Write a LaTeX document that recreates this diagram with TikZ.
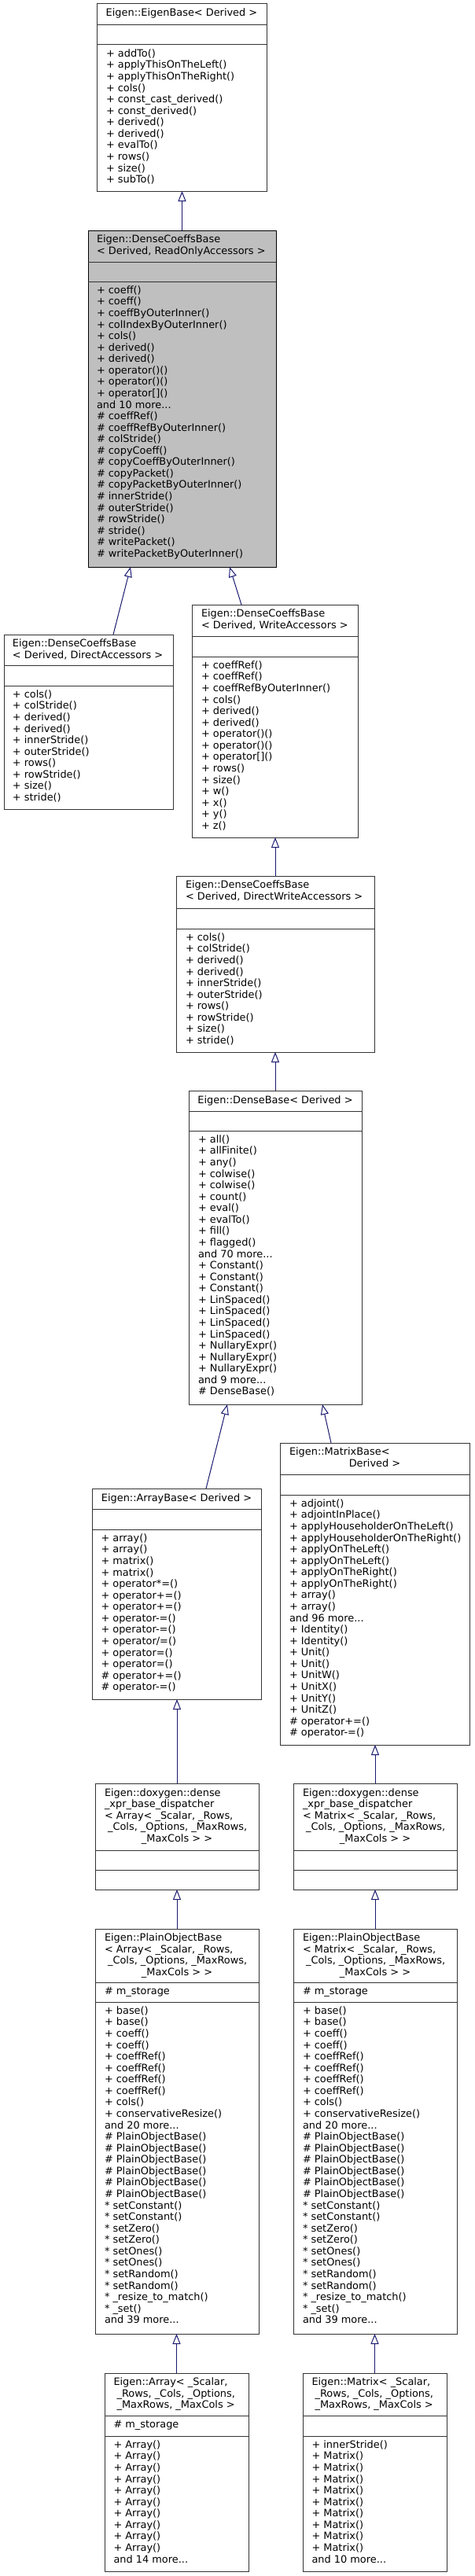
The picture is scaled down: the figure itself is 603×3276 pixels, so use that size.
\documentclass[tikz,border=0pt]{standalone}
\usepackage{fontspec}
\setmainfont{DejaVu Sans}
\usetikzlibrary{arrows.meta,calc}
\definecolor{edgeblue}{HTML}{191970}
\definecolor{hlgray}{HTML}{BFBFBF}
\newcommand\mdots{.{}.{}.}
\tikzset{
  box/.style={rectangle, draw=black!80, line width=1pt, fill=white, inner sep=0pt, outer sep=0pt},
  hlbox/.style={box, draw=black, fill=hlgray},
  sepline/.style={draw=black!80, line width=1pt},
  txt/.style={anchor=base west, inner sep=0pt, outer sep=0pt, font=\fontsize{12.9}{14.57}\selectfont},
  ctxt/.style={txt, anchor=base},
  inh/.style={draw=edgeblue, line width=1pt, -{Triangle[open, length=13pt, width=10pt, line width=1pt]}},
}
\newcommand\umlbox[8]{%
  \node[#2, anchor=north west, minimum width=#5pt, minimum height=#6pt] (#1) at (#3,#4) {};
  \draw[sepline] (#1.west |- 0,#7) -- (#1.east |- 0,#7);
  \draw[sepline] (#1.west |- 0,#8) -- (#1.east |- 0,#8);
}
\newcommand\txtlines[4]{%
  \foreach [count=\i] \t in {#4} {\node[txt] (#1\i) at (#2,{#3+14.57*(\i-1)}) {\t};}
}
\begin{document}
\begin{tikzpicture}[x=1pt,y=-1pt]
\useasboundingbox (0,0) rectangle (603,3276);
\fill[white] (0,0) rectangle (603,3276);

% EigenBase
\umlbox{eigen}{box}{123}{5}{216}{238}{32}{57}
\node[ctxt] (eigent) at (231,21) {Eigen::EigenBase< Derived >};
\txtlines{eigenm}{135}{72.3}{{+ addTo()},{+ applyThisOnTheLeft()},{+ applyThisOnTheRight()},{+ cols()},{+ const\_cast\_derived()},{+ const\_derived()},{+ derived()},{+ derived()},{+ evalTo()},{+ rows()},{+ size()},{+ subTo()}}

% DenseCoeffsBase ReadOnly
\umlbox{ro}{hlbox}{112}{293}{239}{428}{333}{358}
\txtlines{rot}{123}{308.5}{{Eigen::DenseCoeffsBase},{< Derived, ReadOnlyAccessors >}}
\txtlines{rom}{123}{373.3}{{+ coeff()},{+ coeff()},{+ coeffByOuterInner()},{+ colIndexByOuterInner()},{+ cols()},{+ derived()},{+ derived()},{+ operator()()},{+ operator()()},{+ operator[]()},{and 10 more\mdots},{\# coeffRef()},{\# coeffRefByOuterInner()},{\# colStride()},{\# copyCoeff()},{\# copyCoeffByOuterInner()},{\# copyPacket()},{\# copyPacketByOuterInner()},{\# innerStride()},{\# outerStride()},{\# rowStride()},{\# stride()},{\# writePacket()},{\# writePacketByOuterInner()}}

% DirectAccessors
\umlbox{dacc}{box}{5}{807}{215}{222}{846}{872}
\txtlines{dacct}{16}{822.5}{{Eigen::DenseCoeffsBase},{< Derived, DirectAccessors >}}
\txtlines{daccm}{16}{887.3}{{+ cols()},{+ colStride()},{+ derived()},{+ derived()},{+ innerStride()},{+ outerStride()},{+ rows()},{+ rowStride()},{+ size()},{+ stride()}}

% WriteAccessors
\umlbox{wacc}{box}{244}{769}{211}{296}{809}{835}
\txtlines{wacct}{256}{784.5}{{Eigen::DenseCoeffsBase},{< Derived, WriteAccessors >}}
\txtlines{waccm}{256}{850.3}{{+ coeffRef()},{+ coeffRef()},{+ coeffRefByOuterInner()},{+ cols()},{+ derived()},{+ derived()},{+ operator()()},{+ operator()()},{+ operator[]()},{+ rows()},{+ size()},{+ w()},{+ x()},{+ y()},{+ z()}}

% DirectWriteAccessors
\umlbox{dwacc}{box}{224}{1114}{252}{224}{1155}{1181}
\txtlines{dwacct}{236}{1129.5}{{Eigen::DenseCoeffsBase},{< Derived, DirectWriteAccessors >}}
\txtlines{dwaccm}{236}{1196.3}{{+ cols()},{+ colStride()},{+ derived()},{+ derived()},{+ innerStride()},{+ outerStride()},{+ rows()},{+ rowStride()},{+ size()},{+ stride()}}

% DenseBase
\umlbox{dense}{box}{240}{1387}{220}{399}{1413}{1438}
\node[ctxt] (denset) at (350,1403) {Eigen::DenseBase< Derived >};
\txtlines{densem}{252}{1453.3}{{+ all()},{+ allFinite()},{+ any()},{+ colwise()},{+ colwise()},{+ count()},{+ eval()},{+ evalTo()},{+ fill()},{+ flagged()},{and 70 more\mdots},{+ Constant()},{+ Constant()},{+ Constant()},{+ LinSpaced()},{+ LinSpaced()},{+ LinSpaced()},{+ LinSpaced()},{+ NullaryExpr()},{+ NullaryExpr()},{+ NullaryExpr()},{and 9 more\mdots},{\# DenseBase()}}

% ArrayBase
\umlbox{abase}{box}{117}{1893}{215}{268}{1919}{1945}
\node[ctxt] (abaset) at (224.5,1909) {Eigen::ArrayBase< Derived >};
\txtlines{abasem}{128.5}{1960.3}{{+ array()},{+ array()},{+ matrix()},{+ matrix()},{+ operator*=()},{+ operator+=()},{+ operator+=()},{+ operator-=()},{+ operator-=()},{+ operator/=()},{+ operator=()},{+ operator=()},{\# operator+=()},{\# operator-=()}}

% MatrixBase
\umlbox{mbase}{box}{356}{1835}{241}{384}{1875}{1901}
\node[txt] (mbaset1) at (368,1850.5) {Eigen::MatrixBase<};
\node[ctxt] (mbaset2) at (476.5,1865.1) {Derived >};
\txtlines{mbasem}{368}{1916.3}{{+ adjoint()},{+ adjointInPlace()},{+ applyHouseholderOnTheLeft()},{+ applyHouseholderOnTheRight()},{+ applyOnTheLeft()},{+ applyOnTheLeft()},{+ applyOnTheRight()},{+ applyOnTheRight()},{+ array()},{+ array()},{and 96 more\mdots},{+ Identity()},{+ Identity()},{+ Unit()},{+ Unit()},{+ UnitW()},{+ UnitX()},{+ UnitY()},{+ UnitZ()},{\# operator+=()},{\# operator-=()}}

% dispatchers
\umlbox{adisp}{box}{121}{2268}{208}{135}{2353}{2378}
\txtlines{adispt}{133}{2284}{{Eigen::doxygen::dense},{\_xpr\_base\_dispatcher},{< Array< \_Scalar, \_Rows,},{\ \_Cols, \_Options, \_MaxRows,}}
\node[ctxt] (adispt5) at (225,2342.3) {\_MaxCols > >};

\umlbox{mdisp}{box}{373}{2268}{208}{135}{2353}{2378}
\txtlines{mdispt}{385}{2284}{{Eigen::doxygen::dense},{\_xpr\_base\_dispatcher},{< Matrix< \_Scalar, \_Rows,},{\ \_Cols, \_Options, \_MaxRows,}}
\node[ctxt] (mdispt5) at (477,2342.3) {\_MaxCols > >};

% PlainObjectBase
\umlbox{apob}{box}{121}{2453}{208}{515}{2521}{2546}
\txtlines{apobt}{133}{2468.5}{{Eigen::PlainObjectBase},{< Array< \_Scalar, \_Rows,},{\ \_Cols, \_Options, \_MaxRows,}}
\node[ctxt] (apobt4) at (225,2512.2) {\_MaxCols > >};
\node[txt] (apoba) at (133,2536.5) {\# m\_storage};
\txtlines{apobm}{133}{2561.3}{{+ base()},{+ base()},{+ coeff()},{+ coeff()},{+ coeffRef()},{+ coeffRef()},{+ coeffRef()},{+ coeffRef()},{+ cols()},{+ conservativeResize()},{and 20 more\mdots},{\# PlainObjectBase()},{\# PlainObjectBase()},{\# PlainObjectBase()},{\# PlainObjectBase()},{\# PlainObjectBase()},{\# PlainObjectBase()},{* setConstant()},{* setConstant()},{* setZero()},{* setZero()},{* setOnes()},{* setOnes()},{* setRandom()},{* setRandom()},{* \_resize\_to\_match()},{* \_set()},{and 39 more\mdots}}

\umlbox{mpob}{box}{373}{2453}{208}{515}{2521}{2546}
\txtlines{mpobt}{385}{2468.5}{{Eigen::PlainObjectBase},{< Matrix< \_Scalar, \_Rows,},{\ \_Cols, \_Options, \_MaxRows,}}
\node[ctxt] (mpobt4) at (477,2512.2) {\_MaxCols > >};
\node[txt] (mpoba) at (385,2536.5) {\# m\_storage};
\txtlines{mpobm}{385}{2561.3}{{+ base()},{+ base()},{+ coeff()},{+ coeff()},{+ coeffRef()},{+ coeffRef()},{+ coeffRef()},{+ coeffRef()},{+ cols()},{+ conservativeResize()},{and 20 more\mdots},{\# PlainObjectBase()},{\# PlainObjectBase()},{\# PlainObjectBase()},{\# PlainObjectBase()},{\# PlainObjectBase()},{\# PlainObjectBase()},{* setConstant()},{* setConstant()},{* setZero()},{* setZero()},{* setOnes()},{* setOnes()},{* setRandom()},{* setRandom()},{* \_resize\_to\_match()},{* \_set()},{and 39 more\mdots}}

% Array / Matrix
\umlbox{arr}{box}{133}{3018}{183}{252}{3072}{3098}
\txtlines{arrt}{144.5}{3033.5}{{Eigen::Array< \_Scalar,},{\ \_Rows, \_Cols, \_Options,},{\ \_MaxRows, \_MaxCols >}}
\node[txt] (arra) at (144.5,3087.5) {\# m\_storage};
\txtlines{arrm}{144.5}{3113.3}{{+ Array()},{+ Array()},{+ Array()},{+ Array()},{+ Array()},{+ Array()},{+ Array()},{+ Array()},{+ Array()},{+ Array()},{and 14 more\mdots}}

\umlbox{mat}{box}{385}{3018}{183}{252}{3072}{3098}
\txtlines{matt}{396.5}{3033.5}{{Eigen::Matrix< \_Scalar,},{\ \_Rows, \_Cols, \_Options,},{\ \_MaxRows, \_MaxCols >}}
\txtlines{matm}{396.5}{3113.3}{{+ innerStride()},{+ Matrix()},{+ Matrix()},{+ Matrix()},{+ Matrix()},{+ Matrix()},{+ Matrix()},{+ Matrix()},{+ Matrix()},{+ Matrix()},{and 10 more\mdots}}

% inheritance edges
\draw[inh] (ro.north) -- (ro.north |- eigen.south);
\draw[inh] ($(dacc.north)+(31.5,0)$) -- ($(ro.south)+(-65.5,0)$);
\draw[inh] ($(wacc.north)+(-42.5,0)$) -- ($(ro.south)+(60.5,0)$);
\draw[inh] (dwacc.north) -- (dwacc.north |- wacc.south);
\draw[inh] (dense.north) -- (dense.north |- dwacc.south);
\draw[inh] ($(abase.north)+(37.5,0)$) -- ($(dense.south)+(-61,0)$);
\draw[inh] ($(mbase.north)+(-55.5,0)$) -- ($(dense.south)+(60,0)$);
\draw[inh] (adisp.north) -- (adisp.north |- abase.south);
\draw[inh] (mdisp.north) -- (mdisp.north |- mbase.south);
\draw[inh] (apob.north) -- (apob.north |- adisp.south);
\draw[inh] (mpob.north) -- (mpob.north |- mdisp.south);
\draw[inh] (arr.north) -- (arr.north |- apob.south);
\draw[inh] (mat.north) -- (mat.north |- mpob.south);
\end{tikzpicture}
\end{document}
